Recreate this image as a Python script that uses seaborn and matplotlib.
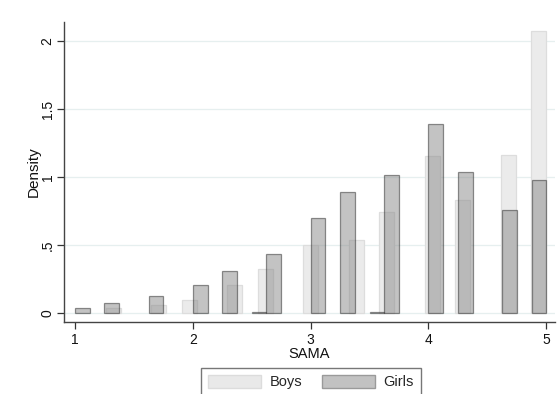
import numpy as np
import pandas as pd
import matplotlib
matplotlib.use("Agg")
import matplotlib.pyplot as plt
import seaborn as sns
from matplotlib.patches import Patch

# ---- data ----
girls_bin_start = [1.0, 1.25, 1.625, 2.0, 2.25, 2.5, 2.625, 3.0, 3.25, 3.5,
                   3.625, 4.0, 4.25, 4.625, 4.875]
girls_density = [0.04, 0.08, 0.125, 0.21, 0.31, 0.012, 0.44, 0.70, 0.89, 0.012,
                 1.02, 1.39, 1.04, 0.76, 0.98]
girls_width = 0.125
girls_nbins = 32

boys_bin_start = [1.258, 1.645, 1.903, 2.29, 2.548, 2.935, 3.322, 3.58, 3.967,
                  4.225, 4.613, 4.871]
boys_density = [0.04, 0.06, 0.10, 0.21, 0.33, 0.50, 0.54, 0.745, 1.155, 0.835,
                1.165, 2.08]
boys_width = 0.129
boys_nbins = 30

x_ticks = [1, 2, 3, 4, 5]
x_ticklabels = ["1", "2", "3", "4", "5"]
y_ticks = [0, 0.5, 1, 1.5, 2]
y_ticklabels = ["0", ".5", "1", "1.5", "2"]
series_labels = ["Boys", "Girls"]

# ---- style ----
sns.set_style("white")
plt.rcParams["font.family"] = ["Liberation Sans", "DejaVu Sans"]
plt.rcParams["font.size"] = 10

fig = plt.figure(figsize=(5.59, 3.94), dpi=100)
ax = fig.add_axes([64 / 559, 1 - 322 / 394, (555 - 64) / 559, (322 - 22) / 394])


def make_frame(starts, dens, width):
    return pd.DataFrame({"SAMA": np.asarray(starts) + width / 2,
                         "w": np.asarray(dens)})


boys_df = make_frame(boys_bin_start, boys_density, boys_width)
girls_df = make_frame(girls_bin_start, girls_density, girls_width)

boys_face = "#ebebeb"
boys_edge = "#dddddd"
girls_face = "#888888"
girls_edge = (0.15, 0.15, 0.15, 0.5)

sns.histplot(data=boys_df, x="SAMA", weights="w", bins=boys_nbins,
             binrange=(5 - boys_nbins * boys_width, 5), stat="count",
             color=boys_face, alpha=1.0, edgecolor=boys_edge, linewidth=0.9,
             ax=ax)
sns.histplot(data=girls_df, x="SAMA", weights="w", bins=girls_nbins,
             binrange=(1, 5), stat="count",
             color=girls_face, alpha=0.5, edgecolor=girls_edge, linewidth=0.9,
             ax=ax)

for p in list(ax.patches):
    if p.get_height() <= 0:
        p.remove()

ax.set_xlim(0.9066, 5.074)
ax.set_ylim(-0.0625, 2.143)
ax.set_xticks(x_ticks)
ax.set_xticklabels(x_ticklabels)
ax.set_yticks(y_ticks)
ax.set_yticklabels(y_ticklabels)
for lab in ax.get_yticklabels():
    lab.set_rotation(90)
    lab.set_va("center")

ax.grid(axis="y", color="#e6efef", linewidth=0.9)
ax.grid(axis="x", visible=False)
ax.set_axisbelow(True)
ax.tick_params(axis="both", direction="out", length=5, width=0.9, color="#333333",
               labelsize=10, labelcolor="#111111", pad=3,
               bottom=True, left=True)
ax.tick_params(axis="y", pad=1.8)
for s in ["top", "right"]:
    ax.spines[s].set_visible(False)
for s in ["left", "bottom"]:
    ax.spines[s].set_color("#444444")
    ax.spines[s].set_linewidth(1.0)

ax.set_xlabel("SAMA", fontsize=10.5, color="#111111", labelpad=0)
ax.set_ylabel("Density", fontsize=11, color="#111111", labelpad=0)

handles = [Patch(facecolor="#e9e9e9", edgecolor="#dcdcdc", linewidth=1.0),
           Patch(facecolor="#c2c2c2", edgecolor="#9a9a9a", linewidth=1.0)]
leg = fig.legend(handles, series_labels, loc="upper center",
                 bbox_to_anchor=(311 / 559, 1 - 368 / 394), ncol=2,
                 frameon=True, fancybox=False, fontsize=10.5,
                 handlelength=3.6, handleheight=1.0, handletextpad=0.6,
                 columnspacing=1.4, borderpad=0.45, borderaxespad=0)
leg.get_frame().set_edgecolor("#555555")
leg.get_frame().set_linewidth(1.0)

fig.savefig("out.png", dpi=100)
